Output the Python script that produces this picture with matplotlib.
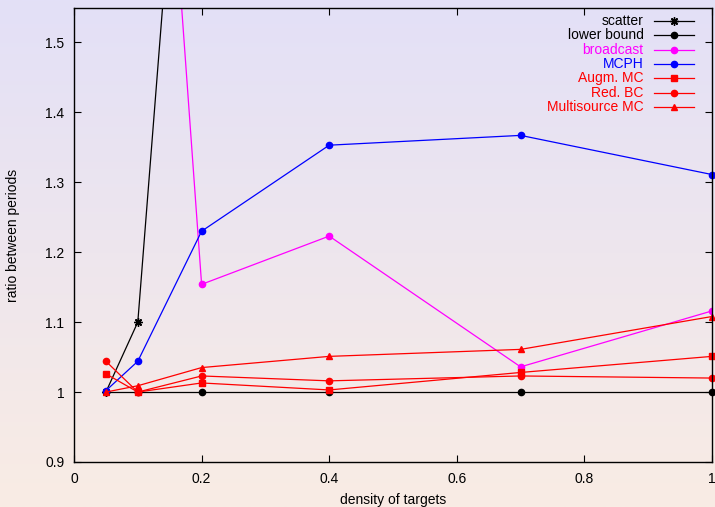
import matplotlib
matplotlib.use("Agg")
import matplotlib.pyplot as plt
import numpy as np
from matplotlib.colors import LinearSegmentedColormap

plt.rcParams['font.family'] = ['Liberation Sans', 'DejaVu Sans']

# data
density = [0.05, 0.1, 0.2, 0.4, 0.7, 1.0]
scatter_x = [0.05, 0.1, 0.2]
scatter_y = [1.0, 1.1, 2.26]
lower_bound = [1.0, 1.0, 1.0, 1.0, 1.0, 1.0]
broadcast_x = [0.1, 0.2, 0.4, 0.7, 1.0]
broadcast_y = [2.42, 1.154, 1.223, 1.036, 1.116]
mcph = [1.002, 1.044, 1.23, 1.353, 1.367, 1.311]
augm_mc = [1.026, 1.0, 1.013, 1.003, 1.028, 1.051]
red_bc = [1.044, 1.0, 1.023, 1.016, 1.023, 1.02]
multisource = [1.0, 1.009, 1.035, 1.051, 1.061, 1.108]

xticks = [0, 0.2, 0.4, 0.6, 0.8, 1]
xtick_labels = ["0", "0.2", "0.4", "0.6", "0.8", "1"]
yticks = [0.9, 1.0, 1.1, 1.2, 1.3, 1.4, 1.5]
ytick_labels = ["0.9", "1", "1.1", "1.2", "1.3", "1.4", "1.5"]

fig = plt.figure(figsize=(7.15, 5.07), dpi=100)

# gradient background
bg = fig.add_axes([0, 0, 1, 1], zorder=-10)
cmap = LinearSegmentedColormap.from_list("bg", ["#e3e0f7", "#f9ece4"])
bg.imshow(np.linspace(0, 1, 256).reshape(-1, 1), aspect="auto", cmap=cmap,
          extent=[0, 1, 0, 1])
bg.axis("off")

ax = fig.add_axes([0.1035, 0.0888, 0.8923, 0.8952])
ax.set_facecolor("none")

series = [
    ("scatter", scatter_x, scatter_y, "black", (8, 2, 0), 6),
    ("lower bound", density, lower_bound, "black", "o", 4.5),
    ("broadcast", broadcast_x, broadcast_y, "#ff00ff", "o", 4.5),
    ("MCPH", density, mcph, "#0000ff", "o", 4.5),
    ("Augm. MC", density, augm_mc, "#ff0000", "s", 4.5),
    ("Red. BC", density, red_bc, "#ff0000", "o", 4.5),
    ("Multisource MC", density, multisource, "#ff0000", "^", 4),
]

for name, xs, ys, col, mk, ms in series:
    ax.plot(xs, ys, color=col, lw=0.9, marker=mk, ms=ms, mew=1.0,
            clip_on=name in ("scatter", "broadcast"))

ax.set_xlim(0, 1)
ax.set_ylim(0.9, 1.549)
ax.set_xticks(xticks)
ax.set_xticklabels(xtick_labels)
ax.set_yticks(yticks)
ax.set_yticklabels(ytick_labels)
ax.tick_params(direction="in", length=5, width=0.8, labelsize=10,
               top=True, right=True, pad=7)
for s in ax.spines.values():
    s.set_linewidth(1.0)

ax.set_xlabel("density of targets", fontsize=10, labelpad=5)
ax.set_ylabel("ratio between periods", fontsize=10, labelpad=18)

# gnuplot style legend: right aligned text, sample to the right
row_h = 14.3 / 454.0
y0 = 1 - 13.0 / 454.0
for i, (name, xs, ys, col, mk, ms) in enumerate(series):
    yy = y0 - i * row_h
    ax.text(0.893, yy, name, color=col, ha="right", va="center",
            fontsize=10, transform=ax.transAxes)
    ax.plot([0.909, 0.972], [yy, yy], color=col, lw=0.9,
            transform=ax.transAxes, clip_on=False)
    ax.plot([0.9405], [yy], color=col, marker=mk, ms=ms, mew=1.0,
            transform=ax.transAxes, clip_on=False)

fig.savefig("out.png", dpi=100)
